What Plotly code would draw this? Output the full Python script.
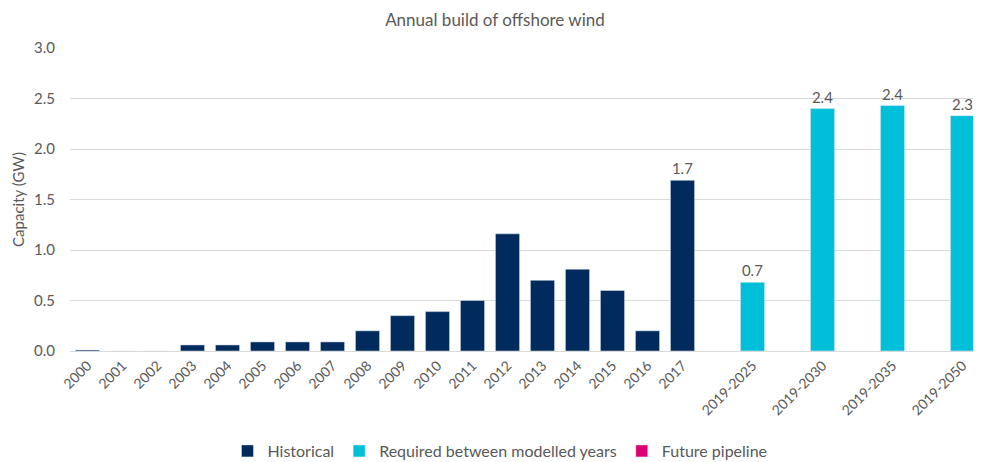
import plotly.graph_objects as go

years = [str(y) for y in range(2000, 2018)]
historical = [0.01, 0.0, 0.0, 0.06, 0.06, 0.09, 0.09, 0.09, 0.20, 0.35, 0.39, 0.50,
              1.16, 0.70, 0.81, 0.60, 0.20, 1.69]
periods = ["2019-2025", "2019-2030", "2019-2035", "2019-2050"]
required = [0.68, 2.40, 2.43, 2.33]
spacers = [" ", "  ", "   ", "    "]

category_order = years + [spacers[0], periods[0], spacers[1], periods[1],
                          spacers[2], periods[2], spacers[3], periods[3]]

hist_labels = [""] * (len(years) - 1) + ["1.7"]
req_labels = ["0.7", "2.4", "2.4", "2.3"]

FONT = "Lato, 'Open Sans', sans-serif"
GRAY = "#595959"

fig = go.Figure()
fig.add_trace(go.Bar(
    x=years, y=historical, name="Historical",
    marker=dict(color="#002B5C"),
    text=hist_labels, textposition="outside",
    textfont=dict(color=GRAY, size=15), cliponaxis=False,
))
fig.add_trace(go.Bar(
    x=periods, y=required, name="Required between modelled years",
    marker=dict(color="#00C0D9"),
    text=req_labels, textposition="outside",
    textfont=dict(color=GRAY, size=15), cliponaxis=False,
))
fig.add_trace(go.Bar(
    x=periods, y=[None] * len(periods), name="Future pipeline",
    marker=dict(color="#DC0073"),
))

# page body has an 8px default margin, so the figure is sized to fit the window
fig.update_layout(
    width=973, height=454,
    barmode="overlay", bargap=0.31,
    plot_bgcolor="white", paper_bgcolor="white",
    font=dict(family=FONT, color=GRAY, size=13),
    margin=dict(l=62, r=1, t=40, b=111, autoexpand=False),
    title=dict(text="Annual build of offshore wind", x=0.467, xref="paper",
               xanchor="center", y=0.974, yanchor="middle",
               font=dict(size=17, color=GRAY, family=FONT)),
    showlegend=True,
    legend=dict(orientation="h", x=0.4725, xanchor="center",
                y=-0.33, yanchor="middle", font=dict(size=16, color=GRAY),
                traceorder="normal", itemwidth=30),
    uniformtext=dict(mode="show", minsize=15),
)
fig.update_xaxes(
    type="category", categoryorder="array", categoryarray=category_order,
    tickmode="linear", dtick=1, automargin=False,
    tickangle=-45, showgrid=False, showline=True, linecolor="#D9D9D9",
    linewidth=1, ticks="", tickfont=dict(size=14, color=GRAY),
)
fig.update_yaxes(
    range=[0, 3.0], dtick=0.5, tickformat=".1f", automargin=False,
    showgrid=True, gridcolor="#D9D9D9", gridwidth=1,
    zeroline=False, showline=False, ticks="", ticklabelstandoff=14,
    tickfont=dict(size=15, color=GRAY),
    title=dict(text="Capacity (GW)", font=dict(size=15, color=GRAY), standoff=5),
)

fig.write_html("out.html")
